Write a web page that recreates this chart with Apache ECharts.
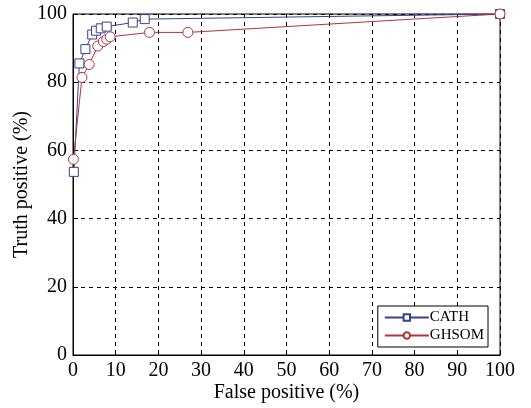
<!DOCTYPE html>
<html>
<head>
<meta charset="utf-8">
<script src="https://cdn.jsdelivr.net/npm/echarts@6/dist/echarts.min.js"></script>
<style>
html,body{margin:0;padding:0;background:#fff;}
#chart{width:531px;height:408px;}
</style>
</head>
<body>
<div id="chart"></div>
<script>
"use strict";
/*data*/
let cathFp = [0.2, 1.5, 2.9, 4.5, 5.4, 6.5, 7.9, 14, 16.8, 100];
let cathTp = [53.7, 85.5, 89.7, 94, 95.1, 95.8, 96.3, 97.5, 98.5, 100];
let ghsomFp = [0.1, 2.1, 3.8, 5.8, 7.1, 7.9, 8.7, 17.9, 26.9, 100];
let ghsomTp = [57.4, 81.4, 85.2, 90.6, 91.9, 92.6, 93.3, 94.6, 94.6, 100];

let pairs = (xs, ys) => xs.map((x, i) => [x, ys[i]]);

let font = "Liberation Serif";
let gridLine = {show:true, lineStyle:{color:"#000", type:[4,4], width:1}};

let chart = echarts.init(document.getElementById("chart"));
let option = {
    animation:false,
    textStyle:{fontFamily:font},
    grid:{
        left:73, right:31, top:14, bottom:53,
        outerBoundsMode:"none",
        containLabel:false,
        show:true, borderColor:"#000", borderWidth:1
    },
    legend:{
        right:43, bottom:61,
        orient:"vertical",
        data:["CATH","GHSOM"],
        backgroundColor:"#fff",
        borderColor:"#000",
        borderWidth:1,
        borderRadius:0,
        padding:[4,4,4,6],
        itemGap:3,
        itemWidth:44,
        itemHeight:8,
        textStyle:{fontFamily:font, fontSize:15, color:"#000", padding:[0,0,0,-4]}
    },
    xAxis:{
        type:"value",
        min:0, max:100, interval:10,
        name:"False positive (%)",
        nameLocation:"middle",
        nameGap:28,
        nameMoveOverlap:false,
        nameTextStyle:{fontFamily:font, fontSize:20, color:"#000"},
        axisLine:{lineStyle:{color:"#000"}},
        axisTick:{inside:true, length:5, lineStyle:{color:"#000"}},
        axisLabel:{fontFamily:font, fontSize:20, color:"#000", margin:6},
        splitLine:gridLine
    },
    yAxis:{
        type:"value",
        min:0, max:100, interval:20,
        name:"Truth positive (%)",
        nameLocation:"middle",
        nameGap:41,
        nameMoveOverlap:false,
        nameTextStyle:{fontFamily:font, fontSize:20, color:"#000"},
        axisLine:{lineStyle:{color:"#000"}},
        axisTick:{inside:true, length:5, lineStyle:{color:"#000"}},
        axisLabel:{fontFamily:font, fontSize:20, color:"#000", margin:6},
        splitLine:gridLine
    },
    series:[
        {
            type:"line",
            name:"CATH",
            data:pairs(cathFp, cathTp),
            symbol:"rect",
            symbolSize:9,
            showAllSymbol:true,
            color:"#3a3f8f",
            lineStyle:{width:1, color:"#3a3f8f"},
            itemStyle:{color:"#fff", borderColor:"#3a3f8f", borderWidth:1}
        },
        {
            type:"line",
            name:"GHSOM",
            data:pairs(ghsomFp, ghsomTp),
            symbol:"circle",
            symbolSize:10,
            showAllSymbol:true,
            color:"#b2323f",
            lineStyle:{width:1, color:"#b2323f"},
            itemStyle:{color:"#fff", borderColor:"#b2323f", borderWidth:1}
        }
    ]
};
chart.setOption(option);
</script>
</body>
</html>
